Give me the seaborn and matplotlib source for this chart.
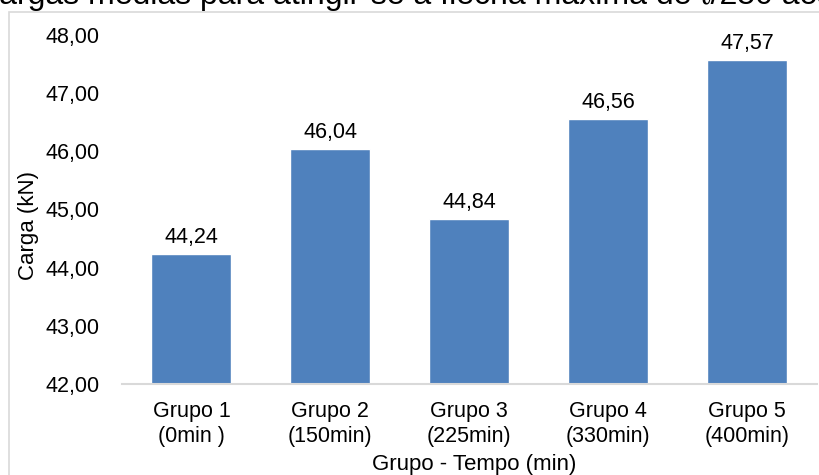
import matplotlib
matplotlib.use("Agg")
import matplotlib.pyplot as plt
from matplotlib.patches import Rectangle
import seaborn as sns
import pandas as pd

# Mean loads per group
grupos = ["Grupo 1\n(0min )", "Grupo 2\n(150min)", "Grupo 3\n(225min)",
          "Grupo 4\n(330min)", "Grupo 5\n(400min)"]
cargas = [44.24, 46.04, 44.84, 46.56, 47.57]
y_ticks = [42, 43, 44, 45, 46, 47, 48]

titulo = "Cargas médias para atingir-se a flecha máxima de ℓ/250 aos"

sns.set_theme(style="white")
plt.rcParams["font.family"] = ["Liberation Sans", "DejaVu Sans"]

W, H = 819, 475
fig = plt.figure(figsize=(W / 100, H / 100), dpi=100)
ax = fig.add_axes([122 / W, 1 - 384 / H, (816.5 - 122) / W, (384 - 35) / H])

df = pd.DataFrame({"grupo": grupos, "carga": cargas})
sns.barplot(data=df, x="grupo", y="carga", order=grupos, color="#4F81BD",
            saturation=1, width=0.576, ax=ax)

ax.set_ylim(42, 48)
ax.set_yticks(y_ticks)
ax.set_yticklabels([f"{v:.2f}".replace(".", ",") for v in y_ticks])
ax.tick_params(axis="y", length=0, pad=16, labelsize=15.5, labelcolor="#000000")
ax.tick_params(axis="x", length=0, pad=12.5, labelsize=15.5, labelcolor="#000000")
for lbl in ax.get_xticklabels():
    lbl.set_linespacing(1.25)

for side in ["top", "right", "left"]:
    ax.spines[side].set_visible(False)
ax.spines["bottom"].set_color("#d9d9d9")
ax.spines["bottom"].set_linewidth(1.5)

ax.set_xlabel("Grupo - Tempo (min)", fontsize=16, color="#000000")
ax.xaxis.set_label_coords(0.507, -0.2)
ax.set_ylabel("Carga (kN)", fontsize=16, color="#000000")
ax.yaxis.set_label_coords(-0.12, 0.455)

for cont in ax.containers:
    ax.bar_label(cont, labels=[f"{v:.2f}".replace(".", ",") for v in cargas],
                 padding=4, fontsize=15.5, color="#000000")

# Chart frame
fig.patches.append(Rectangle((9 / W, -0.1), 1.2, 1 - 12 / H + 0.1,
                             transform=fig.transFigure, fill=False,
                             edgecolor="#d9d9d9", linewidth=1.2))

fig.text(-24 / W, 1 - 4 / H, titulo, ha="left", va="baseline",
         fontsize=23, color="#000000")

fig.savefig("out.png", dpi=100)
